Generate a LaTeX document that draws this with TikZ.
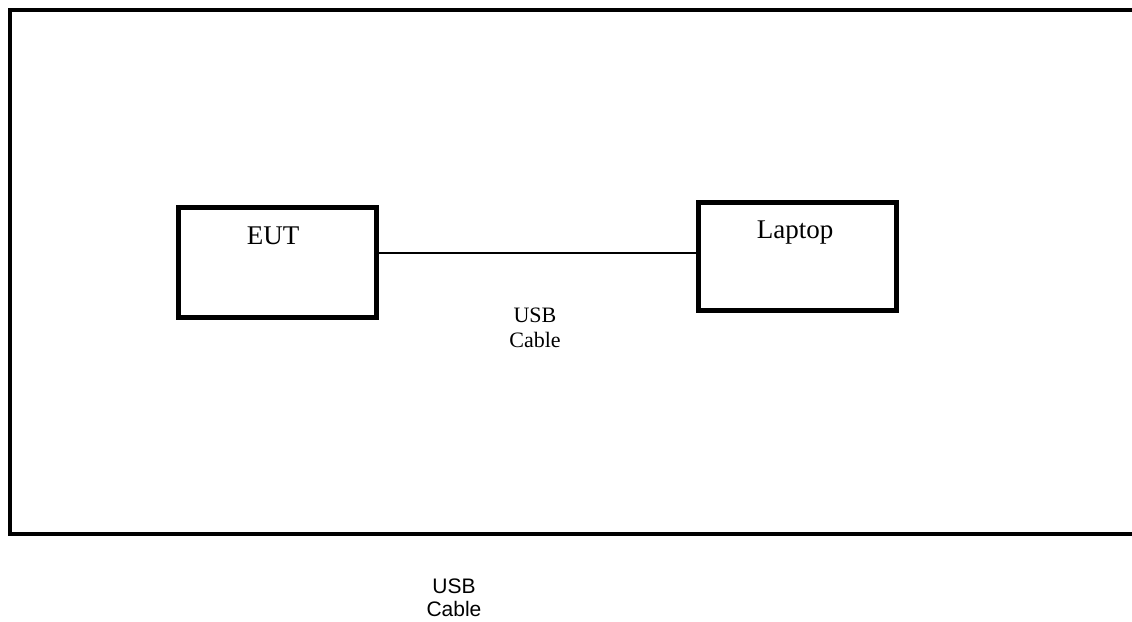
\documentclass[tikz,border=0pt]{standalone}
\usepackage{fontspec}
\setmainfont{Liberation Serif}
\newfontfamily\labelsans{Liberation Sans}
\begin{document}
\begin{tikzpicture}[x=1pt,y=-1pt,
  framebox/.style={draw=black,line width=4pt},
  devbox/.style={draw=black,line width=5pt,inner sep=0pt,anchor=north west},
  devtext/.style={anchor=base,inner sep=0pt,font=\fontsize{27}{31}\selectfont},
  cabletext/.style={anchor=base,inner sep=0pt,font=\fontsize{22}{25}\selectfont},
  sanstext/.style={anchor=base,inner sep=0pt,font=\labelsans\fontsize{21}{24}\selectfont},
  wire/.style={draw=black,line width=1.4pt}]
\useasboundingbox (0,0) rectangle (1132,621);
\fill[white] (0,0) rectangle (1132,621);
\draw[framebox] (1140,10) -- (10,10) -- (10,534) -- (1140,534);
\node[devbox,minimum width=198pt,minimum height=110pt] (eut) at (176,205) {};
\node[devbox,minimum width=198pt,minimum height=108pt] (laptop) at (696,200) {};
\node[devtext] (euttext) at (273,244) {EUT};
\node[devtext] (laptoptext) at (795,238) {Laptop};
\coordinate (wirestart) at (eut.east |- 0,253);
\coordinate (wireend) at (laptop.west |- 0,253);
\draw[wire] (wirestart) -- (wireend);
\node[cabletext] (usb1) at (535,322) {USB};
\node[cabletext] (cable1) at (535,347) {Cable};
\node[sanstext] (usb2) at (454,593) {USB};
\node[sanstext] (cable2) at (454,616) {Cable};
\end{tikzpicture}
\end{document}
